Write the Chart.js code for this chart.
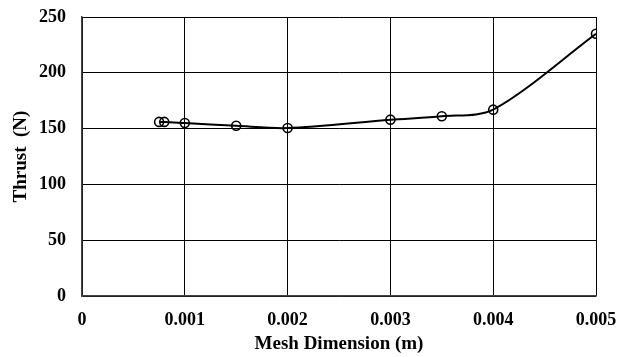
<!DOCTYPE html>
<html>
<head>
<meta charset="utf-8">
<script src="https://cdn.jsdelivr.net/npm/chart.js@4"></script>
<style>
  html, body { margin: 0; padding: 0; background: #fff; }
  #wrap { width: 619px; height: 357px; }
</style>
</head>
<body>
<div id="wrap"><canvas id="thrustChart" width="619" height="357"></canvas></div>
<script>
// Data
const meshSize = [0.00075, 0.0008, 0.001, 0.0015, 0.002, 0.003, 0.0035, 0.004, 0.005];
const thrust = [156, 156, 155, 152.5, 150.5, 158, 161, 167, 235];
const xTicks = [0, 0.001, 0.002, 0.003, 0.004, 0.005];
const yTicks = [0, 50, 100, 150, 200, 250];

const serif = "'Liberation Serif', 'Times New Roman', serif";

const ctx = document.getElementById('thrustChart').getContext('2d');
const thrustChart = new Chart(ctx, {
    type: 'scatter',
    data: {
        datasets: [{
            label: 'Thrust',
            data: meshSize.map((x, i) => ({ x: x, y: thrust[i] })),
            showLine: true,
            borderColor: '#000',
            borderWidth: 2,
            tension: 0.3,
            pointRadius: 4.5,
            pointBorderWidth: 1.6,
            pointBorderColor: '#000',
            pointBackgroundColor: 'rgba(0,0,0,0)'
        }]
    },
    options: {
        responsive: false,
        animation: false,
        layout: { padding: { left: 6, right: 23, top: 17, bottom: 2 } },
        scales: {
            x: {
                type: 'linear',
                min: 0,
                max: 0.005,
                afterBuildTicks: (s) => { s.ticks = xTicks.map(v => ({ value: v })); },
                afterFit: (s) => {
                    s.height = 357 - 296 - 2;
                    s.paddingLeft = 0;
                    s.paddingRight = 0;
                },
                grid: { color: '#000', lineWidth: 1, drawTicks: false },
                border: { color: '#444', width: 1.5 },
                ticks: {
                    color: '#000',
                    padding: 14,
                    maxRotation: 0,
                    font: { family: serif, size: 18, weight: 'bold' },
                    callback: (v) => v === 0 ? '0' : v.toFixed(3)
                },
                title: {
                    display: true,
                    text: 'Mesh Dimension (m)',
                    color: '#000',
                    padding: { top: 5, bottom: 0 },
                    font: { family: serif, size: 19, weight: 'bold' }
                }
            },
            y: {
                min: 0,
                max: 250,
                afterBuildTicks: (s) => { s.ticks = yTicks.map(v => ({ value: v })); },
                afterFit: (s) => {
                    s.width = 82 - 6;
                    s.paddingTop = 0;
                    s.paddingBottom = 0;
                },
                grid: { color: '#000', lineWidth: 1, drawTicks: false },
                border: { color: '#444', width: 1.5 },
                ticks: {
                    color: '#000',
                    padding: 16,
                    font: { family: serif, size: 18, weight: 'bold' }
                },
                title: {
                    display: true,
                    text: 'Thrust  (N)',
                    color: '#000',
                    padding: { top: 4, bottom: 0 },
                    font: { family: serif, size: 19, weight: 'bold' }
                }
            }
        },
        plugins: {
            legend: { display: false },
            tooltip: { enabled: false }
        }
    }
});
</script>
</body>
</html>
